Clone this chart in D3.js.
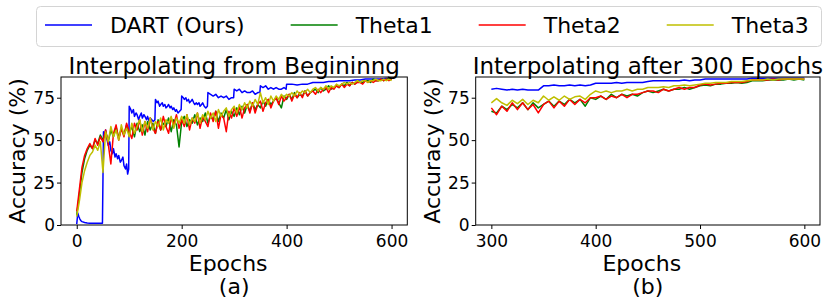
<!DOCTYPE html>
<html>
<head>
<meta charset="utf-8">
<script src="https://cdn.jsdelivr.net/npm/d3@7"></script>
<style>
  body { margin: 0; background: #fff; }
  svg { display: block; font-family: "DejaVu Sans", sans-serif; }
</style>
</head>
<body>
<div id="container"></div>
<script>
// ---- data ----
const seriesNames = ["DART (Ours)", "Theta1", "Theta2", "Theta3"];
const seriesColors = ["#0000ff", "#008000", "#ff0000", "#bfbf00"];

// panel (a): thetas sampled every 5 epochs, 0..600
const epochsA = d3.range(0, 601, 5);
const theta1A = [6, 18, 31, 39, 44, 47, 45, 50, 48, 53, 50,
  55, 49, 56, 52, 58, 51, 57, 53, 59, 54,
  58, 52, 60, 55, 59, 53, 61, 56, 60, 54,
  62, 56, 60, 58, 63, 55, 62, 59, 46, 61,
  64, 58, 62, 60, 65, 59, 63, 61, 66, 60,
  64, 62, 67, 61, 66, 63, 68, 62, 67, 64,
  69, 65, 70, 66, 71, 67, 72, 68, 71, 69,
  73, 70, 74, 71, 73, 75, 72, 69, 76, 74,
  77, 74, 78, 75, 77, 76, 79, 76, 78, 79,
  80, 78, 81, 79, 80, 82, 80, 81, 82, 81,
  83, 82, 84, 82, 84, 83, 85, 84, 84, 85,
  85, 84, 86, 85, 85, 86, 85, 86, 86, 86];
const theta2A = [8, 21, 34, 41, 45, 48, 45, 51, 47, 52, 49,
  56, 48, 36, 54, 59, 50, 57, 52, 60, 55,
  51, 60, 56, 62, 53, 61, 55, 63, 57, 54,
  61, 56, 64, 58, 54, 63, 59, 65, 57, 62,
  58, 65, 56, 63, 60, 66, 57, 64, 61, 58,
  66, 61, 67, 57, 65, 63, 55, 67, 63, 69,
  64, 70, 63, 69, 71, 66, 72, 66, 71, 73,
  67, 72, 74, 69, 73, 75, 71, 76, 73, 75,
  77, 73, 77, 75, 78, 75, 79, 76, 78, 79,
  77, 80, 78, 80, 81, 78, 81, 80, 82, 81,
  83, 81, 83, 82, 84, 83, 84, 84, 83, 85,
  84, 85, 84, 85, 85, 86, 85, 86, 85, 86];
const theta3A = [5, 14, 25, 32, 37, 41, 43, 47, 44, 49, 31,
  55, 49, 58, 52, 56, 50, 59, 53, 57, 52,
  60, 54, 58, 62, 55, 61, 57, 63, 56, 61,
  58, 63, 56, 62, 60, 64, 57, 63, 60, 64,
  60, 65, 59, 63, 61, 66, 60, 65, 62, 67,
  63, 66, 61, 68, 64, 67, 69, 64, 68, 70,
  66, 71, 68, 72, 69, 73, 70, 74, 71, 78,
  72, 75, 71, 76, 73, 76, 74, 77, 75, 77,
  76, 78, 76, 79, 77, 79, 78, 80, 78, 80,
  81, 79, 81, 80, 82, 80, 82, 81, 83, 82,
  83, 84, 83, 84, 83, 84, 85, 84, 85, 85,
  84, 85, 85, 86, 85, 85, 86, 85, 86, 85];

// panel (a): DART has jumps, so its own epoch list
const dartEpochsA = [0, 2, 4, 6, 8, 10, 15, 20, 25, 30, 35, 40, 45, 49, 50, 51, 53, 55, 58, 60,
  63, 65, 68, 70, 73, 75, 78, 80, 83, 85, 88, 90, 93, 95, 97, 99, 100, 103, 105, 108,
  110, 113, 115, 118, 120, 123, 125, 128, 130, 133, 135, 138, 140, 143, 146, 149, 150, 153, 155, 158,
  160, 163, 165, 168, 170, 173, 175, 178, 180, 183, 185, 188, 190, 193, 196, 199, 200, 203, 205, 208,
  210, 213, 215, 218, 220, 223, 225, 228, 230, 233, 235, 238, 240, 243, 246, 249, 250, 255, 260, 265,
  270, 275, 280, 285, 290, 295, 299, 300, 305, 310, 315, 320, 325, 330, 335, 340, 345, 349, 350, 355,
  360, 365, 370, 375, 380, 385, 390, 395, 399, 400, 410, 420, 430, 440, 450, 460, 470, 480, 490, 500,
  510, 520, 530, 540, 550, 560, 570, 580, 590, 600];
const dartAccA = [0.5, 7, 5, 3.5, 2.5, 2, 1.5, 1.2, 1, 1.1, 1, 1, 1, 1, 28, 55, 52, 56, 50, 47,
  49, 44, 42, 45, 40, 42, 39, 41, 37, 38, 40, 35, 33, 36, 30, 33, 70, 68, 66, 68,
  64, 66, 65, 62, 64, 66, 63, 65, 64, 62, 64, 61, 63, 62, 61, 62, 74, 72, 73, 70,
  71, 72, 70, 71, 69, 70, 71, 69, 70, 68, 69, 67, 68, 66, 67, 68, 76, 75, 74, 75,
  73, 74, 72, 73, 74, 72, 71, 72, 71, 72, 70, 71, 72, 70, 69, 70, 78, 77, 76, 77,
  75, 76, 75, 76, 74, 75, 75, 80, 79, 80, 78, 79, 78, 78, 79, 77, 78, 78, 82, 81,
  82, 80, 81, 80, 81, 80, 80, 81, 80, 83, 83, 82.5, 83, 83, 84, 84, 84, 84.5, 84.5, 85,
  85, 85, 85.5, 85.5, 86, 86, 86, 86, 86.5, 86.5];

// panel (b): every 5 epochs, 300..600
const epochsB = d3.range(300, 601, 5);
const dartB = [80, 80.5, 80, 79.5, 80, 79.5, 80, 79.5, 79.5, 79.5, 82,
  82, 82.5, 82, 82, 82.5, 82, 82.5, 82, 82.5, 83.5,
  83.5, 83.5, 83.5, 84, 83.5, 84, 84, 84, 84, 84.5,
  85, 85, 85, 85, 85, 85, 85.5, 85, 85.5, 85.5,
  86, 86, 86, 86, 86, 86, 86, 86, 86, 86.5,
  86.5, 86.5, 86.5, 86.5, 86.5, 86.5, 86.5, 86.5, 86.5, 86.5];
const theta1B = [67, 66, 70, 68, 71, 69, 72, 68, 72, 69, 71,
  73, 70, 73, 71, 74, 72, 74, 70, 75, 74,
  76, 74, 77, 75, 77, 76, 77, 76, 78, 79,
  78, 79, 80, 79, 80, 80, 81, 80, 81, 82,
  82.5, 82, 83, 83, 83.5, 83.5, 84, 83.5, 84, 85,
  85, 85, 85.5, 85.5, 85.5, 85.5, 86, 85.5, 86, 85.5];
const theta2B = [69, 65, 70, 67, 72, 68, 72, 68, 71, 66, 71,
  73, 69, 73, 70, 74, 71, 74, 72, 75, 75,
  76, 74, 76, 75, 77, 75, 77, 77, 78, 79,
  79, 78, 80, 79, 80, 81, 80, 81, 81, 82.5,
  83, 82.5, 83, 83.5, 83.5, 84, 84, 84, 84.5, 85.5,
  85.5, 85.5, 85.5, 86, 85.5, 86, 86, 86, 86, 86];
const theta3B = [72, 74.5, 72, 70.5, 73.5, 71.5, 74, 71, 73.5, 72, 76,
  73.5, 75.5, 73.5, 76, 74, 75.5, 76, 74, 77, 79,
  78, 79, 78, 79, 79, 80, 79, 80, 80, 81,
  81, 81, 81.5, 81, 82, 82, 82.5, 82, 82.5, 83,
  83.5, 83.5, 84, 84, 84, 84.5, 84.5, 84.5, 85, 85.5,
  85.5, 85.5, 86, 85.5, 86, 86, 86, 86, 86, 86];

const yTicks = [0, 25, 50, 75];

// ---- canvas ----
const w = 830, h = 307;
const plotTop = 77, plotBottom = 225;

const svg = d3.select("#container").append("svg")
  .attr("width", w).attr("height", h);

const yScale = d3.scaleLinear().domain([0, 87.2]).range([plotBottom, plotTop]);

const panels = [
  {
    x: d3.scaleLinear().domain([-30, 630]).range([61, 407.3]),
    xTicks: [0, 200, 400, 600],
    title: "Interpolating from Begininng",
    tag: "(a)",
    lines: [
      { xs: dartEpochsA, ys: dartAccA },
      { xs: epochsA, ys: theta1A },
      { xs: epochsA, ys: theta2A },
      { xs: epochsA, ys: theta3A }
    ]
  },
  {
    x: d3.scaleLinear().domain([285, 615]).range([475.7, 820]),
    xTicks: [300, 400, 500, 600],
    title: "Interpolating after 300 Epochs",
    tag: "(b)",
    lines: [
      { xs: epochsB, ys: dartB },
      { xs: epochsB, ys: theta1B },
      { xs: epochsB, ys: theta2B },
      { xs: epochsB, ys: theta3B }
    ]
  }
];

panels.forEach(function(p) {
  const x0 = p.x.range()[0], x1 = p.x.range()[1];
  const g = svg.append("g");

  // series
  p.lines.forEach(function(s, i) {
    const pts = s.xs.map((e, k) => [e, s.ys[k]]);
    g.append("path")
      .datum(pts)
      .attr("fill", "none")
      .attr("stroke", seriesColors[i])
      .attr("stroke-width", 1.5)
      .attr("stroke-linejoin", "round")
      .attr("d", d3.line().x(d => p.x(d[0])).y(d => yScale(d[1])));
  });

  // frame
  g.append("rect")
    .attr("x", x0).attr("y", plotTop)
    .attr("width", x1 - x0).attr("height", plotBottom - plotTop)
    .attr("fill", "none").attr("stroke", "#000").attr("stroke-width", 1);

  // axes
  const xAxis = g.append("g")
    .attr("transform", "translate(0," + plotBottom + ")")
    .call(d3.axisBottom(p.x).tickValues(p.xTicks).tickSize(4).tickPadding(6).tickSizeOuter(0));
  const yAxis = g.append("g")
    .attr("transform", "translate(" + x0 + ",0)")
    .call(d3.axisLeft(yScale).tickValues(yTicks).tickSize(4).tickPadding(2).tickSizeOuter(0));
  [xAxis, yAxis].forEach(a => {
    a.select(".domain").remove();
    a.selectAll("text").style("font-size", "17px").style("font-family", "DejaVu Sans").attr("fill", "#000");
    a.selectAll("line").attr("stroke", "#000");
  });

  const cx = (x0 + x1) / 2;
  g.append("text")
    .attr("x", cx).attr("y", 73.5)
    .attr("text-anchor", "middle")
    .style("font-size", "23px")
    .text(p.title);

  g.append("text")
    .attr("x", cx - 6).attr("y", 271)
    .attr("text-anchor", "middle")
    .style("font-size", "22px")
    .text("Epochs");

  g.append("text")
    .attr("x", cx).attr("y", 294)
    .attr("text-anchor", "middle")
    .style("font-size", "22px")
    .text(p.tag);

  g.append("text")
    .attr("transform", "translate(" + (x0 - 36) + "," + ((plotTop + plotBottom) / 2) + ")rotate(-90)")
    .attr("text-anchor", "middle")
    .style("font-size", "22px")
    .text("Accuracy (%)");
});

// ---- legend ----
const legend = svg.append("g");
legend.append("rect")
  .attr("x", 36.5).attr("y", 6.5)
  .attr("width", 785).attr("height", 40)
  .attr("rx", 4)
  .attr("fill", "#fff").attr("stroke", "#d4d4d4");

let lx = 45;
seriesNames.forEach(function(name, i) {
  legend.append("line")
    .attr("x1", lx).attr("x2", lx + 47)
    .attr("y1", 25).attr("y2", 25)
    .attr("stroke", seriesColors[i]).attr("stroke-width", 2)
    .attr("stroke-opacity", 0.75);
  const t = legend.append("text")
    .attr("x", lx + 65).attr("y", 33)
    .style("font-size", "22px")
    .text(name);
  lx = lx + 65 + t.node().getComputedTextLength() + 46;
});
</script>
</body>
</html>
